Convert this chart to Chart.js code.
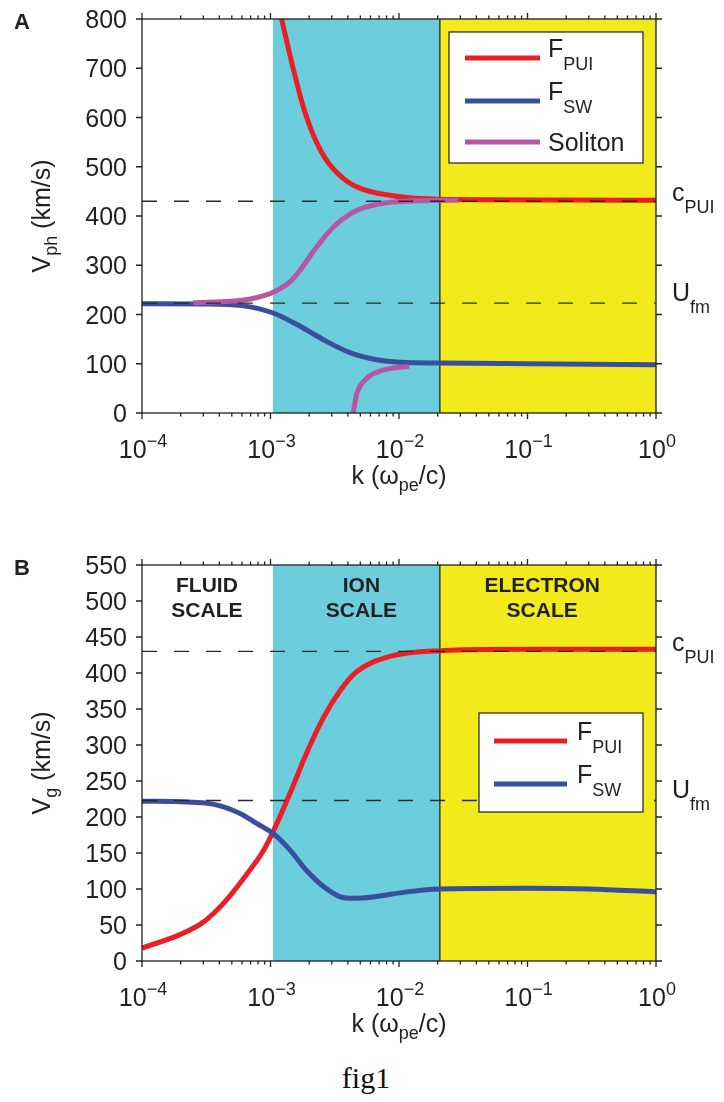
<!DOCTYPE html>
<html>
<head>
<meta charset="utf-8">
<script src="https://cdn.jsdelivr.net/npm/chart.js@4.4.0/dist/chart.umd.min.js"></script>
<style>
  body { margin: 0; background: #fff; }
  #page { position: relative; width: 724px; height: 1102px; background: #fff; overflow: hidden; }
  canvas { position: absolute; left: 0; }
  #caption { position: absolute; left: 0; width: 732px; top: 1063px; text-align: center;
             font: 30px/30px "Liberation Serif", "DejaVu Serif", serif; color: #111; }
</style>
</head>
<body>
<div id="page">
  <canvas id="chartA" width="724" height="520" style="top:0"></canvas>
  <canvas id="chartB" width="724" height="540" style="top:520px"></canvas>
  <div id="caption">fig1</div>
</div>
<script>
// scale boundaries in k (omega_pe / c) and reference speeds (km/s)
const kIonEdge = 1.045e-3;
const kElectronEdge = 0.0208;
const cPUI = 430;
const Ufm = 223;

// panel A: phase speed
const kPuiA = [1.22e-3, 1.5e-3, 1.8e-3, 2.15e-3, 2.7e-3, 3.7e-3, 5e-3, 8e-3, 1.2e-2, 2.1e-2, 5e-2, 0.2, 1];
const vphPui = [800, 700, 622, 565, 515, 476, 456, 443, 437, 434, 433, 432.5, 432];
const kSwA = [1e-4, 3e-4, 6e-4, 1.05e-3, 1.7e-3, 2.7e-3, 4.2e-3, 6.7e-3, 1.02e-2, 2.1e-2, 0.1, 1];
const vphSw = [222, 221.5, 218, 203, 176, 146, 122, 108, 103, 101.5, 100, 98];
const kSolUp = [2.5e-4, 4e-4, 6e-4, 8e-4, 1.05e-3, 1.4e-3, 1.7e-3, 2.3e-3, 3.1e-3, 4.2e-3, 5.5e-3, 7.5e-3, 1.4e-2, 2.9e-2];
const vphSolUp = [224, 226, 229, 235, 245, 265, 290, 338, 378, 405, 418, 426, 431, 432];
const kSolLow = [4.4e-3, 4.55e-3, 4.7e-3, 5.6e-3, 7.5e-3, 1.2e-2];
const vphSolLow = [0, 22, 40, 70, 87, 95];

// panel B: group speed
const kPuiB = [1e-4, 2e-4, 3e-4, 4.3e-4, 6.5e-4, 8.8e-4, 1.05e-3, 1.42e-3, 1.9e-3, 2.6e-3, 3.5e-3, 4.7e-3, 8.5e-3, 2.1e-2, 0.1, 1];
const vgPui = [18, 37, 54, 80, 120, 153, 180, 233, 288, 339, 376, 402, 423, 431, 433, 433];
const kSwB = [1e-4, 3.2e-4, 5.8e-4, 7.8e-4, 1.05e-3, 1.42e-3, 1.9e-3, 2.6e-3, 3.5e-3, 4.4e-3, 6.3e-3, 1.15e-2, 2.1e-2, 0.1, 0.3, 1];
const vgSw = [222, 219, 205, 191, 177, 154, 126, 103, 89, 87, 89, 96, 100, 101, 100, 96];

// axis ticks
const yTicksA = [0, 100, 200, 300, 400, 500, 600, 700, 800];
const yTicksB = [0, 50, 100, 150, 200, 250, 300, 350, 400, 450, 500, 550];
const xTickExps = [-4, -3, -2, -1, 0];

// scale regime labels for panel B
const regionNames = [['FLUID', 'SCALE'], ['ION', 'SCALE'], ['ELECTRON', 'SCALE']];
const regionLabelK = [3.2e-4, 5.1e-3, 0.13];

const RED = '#ec1e25', BLUE = '#3a4e9f', MAGENTA = '#b856a6';
const CYAN = '#6ccddc', YELLOW = '#f2ea1a';
const INK = '#231f20';
const SANS = '"Liberation Sans", Arial, Helvetica, sans-serif';

function fontOf(p) {
  return (p[3] ? 'bold ' : '') + p[1] + 'px ' + SANS;
}

// draws a run of text pieces: [text, size, baselineShift, bold]
function drawParts(ctx, x, y, parts, align) {
  let w = 0;
  for (const p of parts) { ctx.font = fontOf(p); w += ctx.measureText(p[0]).width; }
  let cx = align === 'center' ? x - w / 2 : align === 'right' ? x - w : x;
  ctx.textAlign = 'left';
  ctx.textBaseline = 'alphabetic';
  for (const p of parts) {
    ctx.font = fontOf(p);
    ctx.fillText(p[0], cx, y + (p[2] || 0));
    cx += ctx.measureText(p[0]).width;
  }
}

const panels = {
  chartA: {
    letter: 'A',
    yTicks: yTicksA,
    yTitle: [['V', 25], ['ph', 18, 7], [' (km/s)', 25]],
    legend: {
      box: [449, 32, 643, 163], line: [465, 540], textX: 548,
      items: [
        { color: RED, y: 58, text: [['F', 25, -1], ['PUI', 18, 12]] },
        { color: BLUE, y: 101, text: [['F', 25, -1], ['SW', 18, 12]] },
        { color: MAGENTA, y: 142, text: [['Soliton', 25, 9]] }
      ]
    },
    regions: false
  },
  chartB: {
    letter: 'B',
    yTicks: yTicksB,
    yTitle: [['V', 25], ['g', 18, 7], [' (km/s)', 25]],
    legend: {
      box: [479, 193, 643, 292], line: [494, 567], textX: 577,
      items: [
        { color: RED, y: 221, text: [['F', 25, -1], ['PUI', 18, 12]] },
        { color: BLUE, y: 264, text: [['F', 25, -1], ['SW', 18, 12]] }
      ]
    },
    regions: true
  }
};

const framePlugin = {
  id: 'frame',
  beforeDatasetsDraw(chart) {
    const { ctx, chartArea: a, scales: { x } } = chart;
    const xi = x.getPixelForValue(kIonEdge);
    const xe = x.getPixelForValue(kElectronEdge);
    ctx.save();
    ctx.fillStyle = CYAN;
    ctx.fillRect(xi, a.top, xe - xi, a.bottom - a.top);
    ctx.fillStyle = YELLOW;
    ctx.fillRect(xe, a.top, a.right - xe, a.bottom - a.top);
    ctx.strokeStyle = INK;
    ctx.lineWidth = 1.3;
    ctx.beginPath();
    ctx.moveTo(xe, a.top);
    ctx.lineTo(xe, a.bottom);
    ctx.stroke();
    ctx.restore();
  },
  afterDatasetsDraw(chart) {
    const { ctx, chartArea: a, scales: { x, y } } = chart;
    const o = panels[chart.canvas.id];
    ctx.save();

    // dashed reference speeds
    ctx.strokeStyle = '#2a2a2a';
    ctx.lineWidth = 1.4;
    ctx.setLineDash([15, 17]);
    for (const v of [cPUI, Ufm]) {
      const py = y.getPixelForValue(v);
      ctx.beginPath();
      ctx.moveTo(a.left, py);
      ctx.lineTo(a.right, py);
      ctx.stroke();
    }
    ctx.setLineDash([]);

    // legend
    const lg = o.legend;
    ctx.fillStyle = '#fff';
    ctx.fillRect(lg.box[0], lg.box[1], lg.box[2] - lg.box[0], lg.box[3] - lg.box[1]);
    ctx.strokeStyle = INK;
    ctx.lineWidth = 1.2;
    ctx.strokeRect(lg.box[0], lg.box[1], lg.box[2] - lg.box[0], lg.box[3] - lg.box[1]);
    for (const it of lg.items) {
      ctx.strokeStyle = it.color;
      ctx.lineWidth = 5;
      ctx.beginPath();
      ctx.moveTo(lg.line[0], it.y);
      ctx.lineTo(lg.line[1], it.y);
      ctx.stroke();
      ctx.fillStyle = INK;
      drawParts(ctx, lg.textX, it.y, it.text, 'left');
    }

    // axes box and outward ticks
    ctx.strokeStyle = INK;
    ctx.lineWidth = 1.3;
    ctx.strokeRect(a.left, a.top, a.right - a.left, a.bottom - a.top);
    ctx.beginPath();
    for (const v of o.yTicks) {
      const py = y.getPixelForValue(v);
      ctx.moveTo(a.left, py); ctx.lineTo(a.left - 6, py);
      ctx.moveTo(a.right, py); ctx.lineTo(a.right + 6, py);
    }
    for (const e of xTickExps) {
      for (let m = 1; m <= 9; m++) {
        if (e === 0 && m > 1) break;
        const px = x.getPixelForValue(m * Math.pow(10, e));
        const len = m === 1 ? 6 : 3.5;
        ctx.moveTo(px, a.bottom); ctx.lineTo(px, a.bottom + len);
        ctx.moveTo(px, a.top); ctx.lineTo(px, a.top - len);
      }
    }
    ctx.stroke();

    // tick labels
    ctx.fillStyle = INK;
    for (const v of o.yTicks) {
      drawParts(ctx, a.left - 15, y.getPixelForValue(v) + 9, [[String(v), 25]], 'right');
    }
    for (const e of xTickExps) {
      const px = x.getPixelForValue(Math.pow(10, e));
      const ex = e < 0 ? '\u2212' + (-e) : String(e);
      drawParts(ctx, px + 1, a.bottom + 45, [['10', 25], [ex, 18, -11]], 'center');
    }

    // axis titles
    drawParts(ctx, (a.left + a.right) / 2, a.bottom + 71, [['k (\u03c9', 25], ['pe', 18, 7], ['/c)', 25]], 'center');
    ctx.save();
    ctx.translate(50, (a.top + a.bottom) / 2);
    ctx.rotate(-Math.PI / 2);
    drawParts(ctx, 0, 0, o.yTitle, 'center');
    ctx.restore();

    // reference speed names on the right
    drawParts(ctx, a.right + 16, y.getPixelForValue(cPUI), [['c', 25], ['PUI', 18, 12]], 'left');
    drawParts(ctx, a.right + 16, y.getPixelForValue(Ufm) - 2, [['U', 25], ['fm', 18, 12]], 'left');

    // panel letter
    drawParts(ctx, 14, a.top + 10, [[o.letter, 22, 0, true]], 'left');

    // regime names
    if (o.regions) {
      regionNames.forEach((lines, i) => {
        const px = x.getPixelForValue(regionLabelK[i]);
        drawParts(ctx, px, a.top + 27, [[lines[0], 21, 0, true]], 'center');
        drawParts(ctx, px, a.top + 52, [[lines[1], 21, 0, true]], 'center');
      });
    }
    ctx.restore();
  }
};

function series(ks, vs, color, order) {
  return {
    data: ks.map((k, i) => ({ x: k, y: vs[i] })),
    borderColor: color,
    borderWidth: 5,
    fill: false,
    clip: 0,
    order: order
  };
}

function makeChart(id, datasets, yMax, pad) {
  return new Chart(document.getElementById(id), {
    type: 'line',
    data: { datasets: datasets },
    options: {
      responsive: false,
      animation: false,
      devicePixelRatio: 1,
      layout: { padding: pad },
      elements: {
        point: { radius: 0 },
        line: { cubicInterpolationMode: 'monotone' }
      },
      scales: {
        x: { type: 'logarithmic', min: 1e-4, max: 1, display: false },
        y: { type: 'linear', min: 0, max: yMax, display: false }
      },
      plugins: { legend: { display: false }, tooltip: { enabled: false } }
    },
    plugins: [framePlugin]
  });
}

makeChart('chartA', [
  series(kSolUp, vphSolUp, MAGENTA, 0),
  series(kSolLow, vphSolLow, MAGENTA, 0),
  series(kPuiA, vphPui, RED, 1),
  series(kSwA, vphSw, BLUE, 2)
], 800, { left: 142, right: 68, top: 19, bottom: 107 });

makeChart('chartB', [
  series(kSwB, vgSw, BLUE, 0),
  series(kPuiB, vgPui, RED, 1)
], 550, { left: 142, right: 68, top: 45, bottom: 99 });
</script>
</body>
</html>
